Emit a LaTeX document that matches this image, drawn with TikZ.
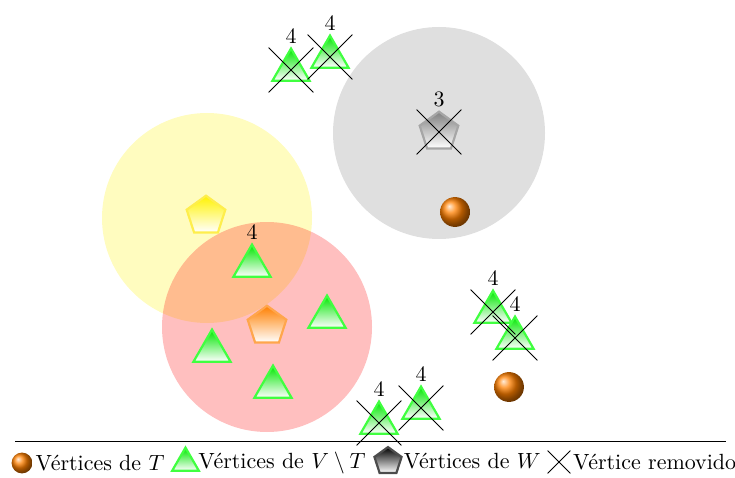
\documentclass[tikz,border=0pt]{standalone}
\usepackage{amsmath}
\usepackage{tikz}
\usetikzlibrary{positioning,shapes.geometric,shapes.misc}

\begin{document}
\begin{tikzpicture}[
    vT/.style={circle, ball color=orange, minimum size=13.6pt, inner sep=0pt},
    vV/.style={regular polygon, regular polygon sides=3, minimum size=19.5pt, inner sep=0pt, line width=1pt, draw=green!75!white, top color=green!90!black, bottom color=white},
    vW/.style={regular polygon, regular polygon sides=5, minimum size=18.5pt, inner sep=0pt, line width=1pt, draw=#1!70, top color=#1, bottom color=white},
    rem/.style={cross out, draw, minimum size=20pt, inner sep=0pt},
    zona/.style={fill=#1, fill opacity=0.25},
    num/.style={label={[label distance=-2pt]above:#1}},
    leg/.style={inner sep=1pt}
  ]
    \useasboundingbox (0,0) rectangle (11.76,7.632);

    \fill[zona=gray] (7.024,5.504) circle (1.696);
    \fill[zona=yellow] (3.312,4.144) circle (1.68);
    \fill[zona=red] (4.272,2.4) circle (1.68);

    \node[vW=gray, num=3] (w1) at (7.024,5.52) {};
    \node[vW=yellow!90!orange] (w2) at (3.296,4.176) {};
    \node[vW=orange] (w3) at (4.272,2.416) {};

    \node[vT] (b1) at (7.28,4.24) {};
    \node[vT] (b2) at (8.144,1.44) {};

    \node[vV, num=4] (v1) at (4.656,6.512) {};
    \node[vV, num=4] (v2) at (5.28,6.72) {};
    \node[vV, num=4] (v3) at (4.032,3.376) {};
    \node[vV] (v4) at (3.392,2.016) {};
    \node[vV] (v5) at (5.232,2.56) {};
    \node[vV] (v6) at (4.368,1.44) {};
    \node[vV, num=4] (v7) at (7.888,2.64) {};
    \node[vV, num=4] (v8) at (8.24,2.224) {};
    \node[vV, num=4] (v9) at (6.064,0.864) {};
    \node[vV, num=4] (v10) at (6.736,1.104) {};

    \node[rem] (x1) at (v1) {};
    \node[rem] (x2) at (v2) {};
    \node[rem] (x3) at (w1) {};
    \node[rem] (x4) at (v7) {};
    \node[rem] (x5) at (v8) {};
    \node[rem] (x6) at (v9) {};
    \node[rem] (x7) at (v10) {};

    \coordinate (la) at (0.24,0.576);
    \coordinate (lb) at (11.616,0.576);
    \draw (la) -- (lb);

    \node[vT, minimum size=9.5pt] (lT) at (0.352,0.224) {};
    \node[leg, right=0pt of lT] (tT) {Vértices de $T$};
    \node[vV, minimum size=14pt] (lV) at (2.968,0.224) {};
    \node[leg, right=0pt of lV] (tV) {Vértices de $V \setminus T$};
    \node[vW=black, minimum size=13pt] (lW) at (6.208,0.25) {};
    \node[leg, right=0pt of lW] (tW) {Vértices de $W$};
    \node[rem, minimum size=10pt] (lX) at (8.944,0.24) {};
    \node[leg, right=0pt of lX] (tX) {Vértice removido};
  \end{tikzpicture}
\end{document}
